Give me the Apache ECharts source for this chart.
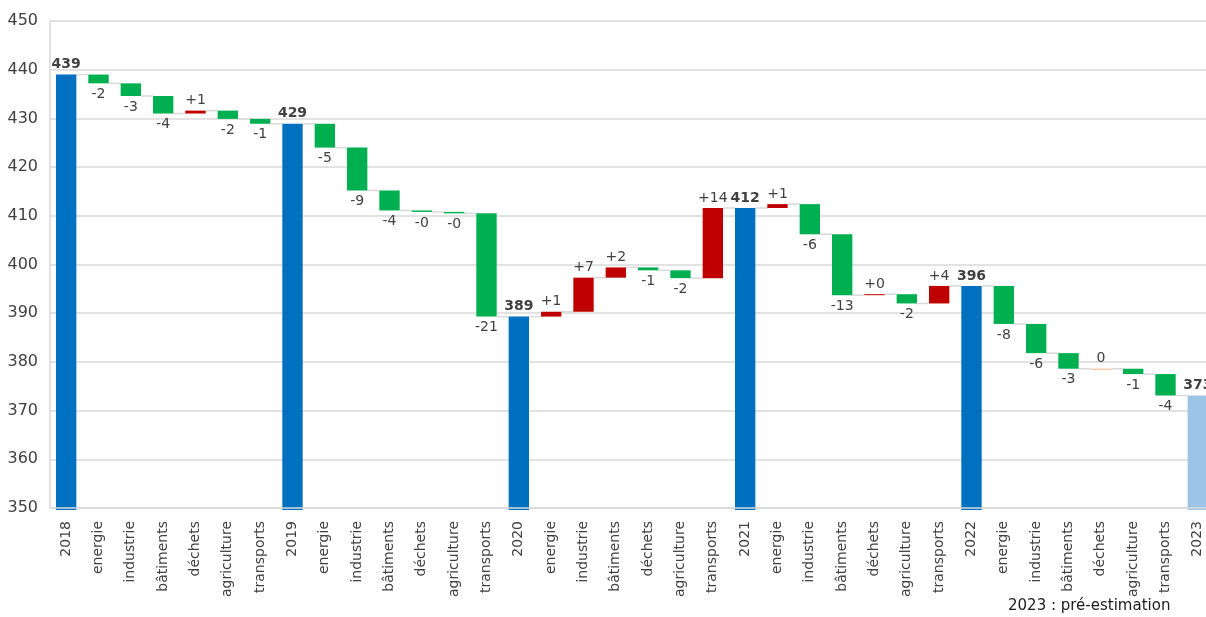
<!DOCTYPE html>
<html>
<head>
<meta charset="utf-8">
<script src="https://cdn.jsdelivr.net/npm/echarts@6/dist/echarts.min.js"></script>
<style>html,body{margin:0;padding:0;background:#fff;overflow:hidden}#c{width:1220px;height:617px}</style>
</head>
<body>
<div id="c"></div>
<script>
const years = ['2018', '2019', '2020', '2021', '2022', '2023'];
const sectors = ['energie', 'industrie', 'bâtiments', 'déchets', 'agriculture', 'transports'];
const totals = [439.0, 428.9, 389.3, 411.6, 395.6, 373.1];
const changes2018to2019 = [-1.8, -2.6, -3.6, 0.6, -1.7, -1.0];
const changes2019to2020 = [-4.9, -8.8, -4.1, -0.3, -0.3, -21.2];
const changes2020to2021 = [1.0, 7.0, 2.1, -0.6, -1.6, 14.4];
const changes2021to2022 = [0.8, -6.2, -12.5, 0.2, -1.9, 3.6];
const changes2022to2023 = [-7.8, -6.0, -3.2, 0, -1.1, -4.4];
const yTicks = { min: 350, max: 450, interval: 10 };

const groups = [changes2018to2019, changes2019to2020, changes2020to2021, changes2021to2022, changes2022to2023];

const categories = [];
const items = [];
function fmtDelta(v) {
  const s = v > 0 ? '+' : (v < 0 ? '-' : '');
  return s + Math.round(Math.abs(v));
}
years.forEach((y, yi) => {
  categories.push(y);
  items.push({ lo: yTicks.min, hi: totals[yi], end: totals[yi], kind: yi === years.length - 1 ? 'est' : 'total', label: String(Math.round(totals[yi])) });
  if (yi < groups.length) {
    let level = totals[yi];
    groups[yi].forEach((d, si) => {
      categories.push(sectors[si]);
      const next = level + d;
      items.push({ lo: Math.min(level, next), hi: Math.max(level, next), end: next, kind: d > 0 ? 'up' : (d < 0 ? 'down' : 'zero'), label: fmtDelta(d) });
      level = next;
    });
  }
});

const colors = { total: '#0070C0', est: '#9DC3E6', up: '#C00000', down: '#00B050', zero: '#F4B183' };
const labelFont = 'DejaVu Sans';

const chart = echarts.init(document.getElementById('c'));
chart.setOption({
  animation: false,
  grid: { left: 50, width: 1164, top: 21, height: 487, containLabel: false },
  xAxis: {
    type: 'category',
    data: categories,
    axisLine: { show: true, lineStyle: { color: '#D9D9D9', width: 1.5 } },
    axisTick: { show: false },
    axisLabel: { rotate: 90, interval: 0, color: '#404040', fontFamily: labelFont, fontSize: 14, margin: 13 },
    z: 5
  },
  yAxis: {
    type: 'value',
    min: yTicks.min, max: yTicks.max, interval: yTicks.interval,
    axisLine: { show: true, lineStyle: { color: '#D9D9D9', width: 1.5 } },
    axisTick: { show: false },
    splitLine: { lineStyle: { color: '#D9D9D9', width: 1.5 } },
    axisLabel: { color: '#404040', fontFamily: labelFont, fontSize: 16, margin: 12 }
  },
  series: [
    {
      type: 'custom',
      clip: false,
      data: items.map((it, i) => [i, it.lo, it.hi, it.end]),
      renderItem: function (params, api) {
        const i = api.value(0);
        const it = items[params.dataIndex];
        const band = api.size([1, 0])[0];
        const bw = band * 0.63;
        const cx = api.coord([i, yTicks.min])[0];
        const isTotal = (it.kind === 'total' || it.kind === 'est');
        const yLo = isTotal ? api.coord([i, yTicks.min])[1] + 2 : api.coord([i, it.lo])[1];
        const yHi = api.coord([i, it.hi])[1];
        const children = [];
        if (params.dataIndex < items.length - 1) {
          const ly = api.coord([i, it.end])[1];
          const nx = api.coord([i + 1, yTicks.min])[0];
          children.push({
            type: 'line',
            shape: { x1: cx + bw / 2, y1: ly, x2: nx - bw / 2, y2: ly },
            style: { stroke: '#D9D9D9', lineWidth: 1.5 }
          });
        }
        const h = Math.max(yLo - yHi, 1);
        children.push({
          type: 'rect',
          shape: { x: cx - bw / 2, y: yHi, width: bw, height: h },
          style: { fill: colors[it.kind] }
        });
        let ty, tv;
        if (isTotal || it.kind === 'up' || it.kind === 'zero') {
          ty = yHi - 3; tv = 'bottom';
        } else {
          ty = yLo + 4; tv = 'top';
        }
        children.push({
          type: 'text',
          style: {
            text: it.label, x: cx, y: ty, align: 'center', verticalAlign: tv,
            fill: '#404040', fontFamily: labelFont, fontSize: 14, fontWeight: isTotal ? 'bold' : 'normal'
          }
        });
        return { type: 'group', children: children };
      }
    }
  ],
  graphic: [
    { type: 'text', left: 1008, top: 599, style: { text: '2023 : pré-estimation', fill: '#1a1a1a', fontFamily: labelFont, fontSize: 15 } }
  ]
});
</script>
</body>
</html>
